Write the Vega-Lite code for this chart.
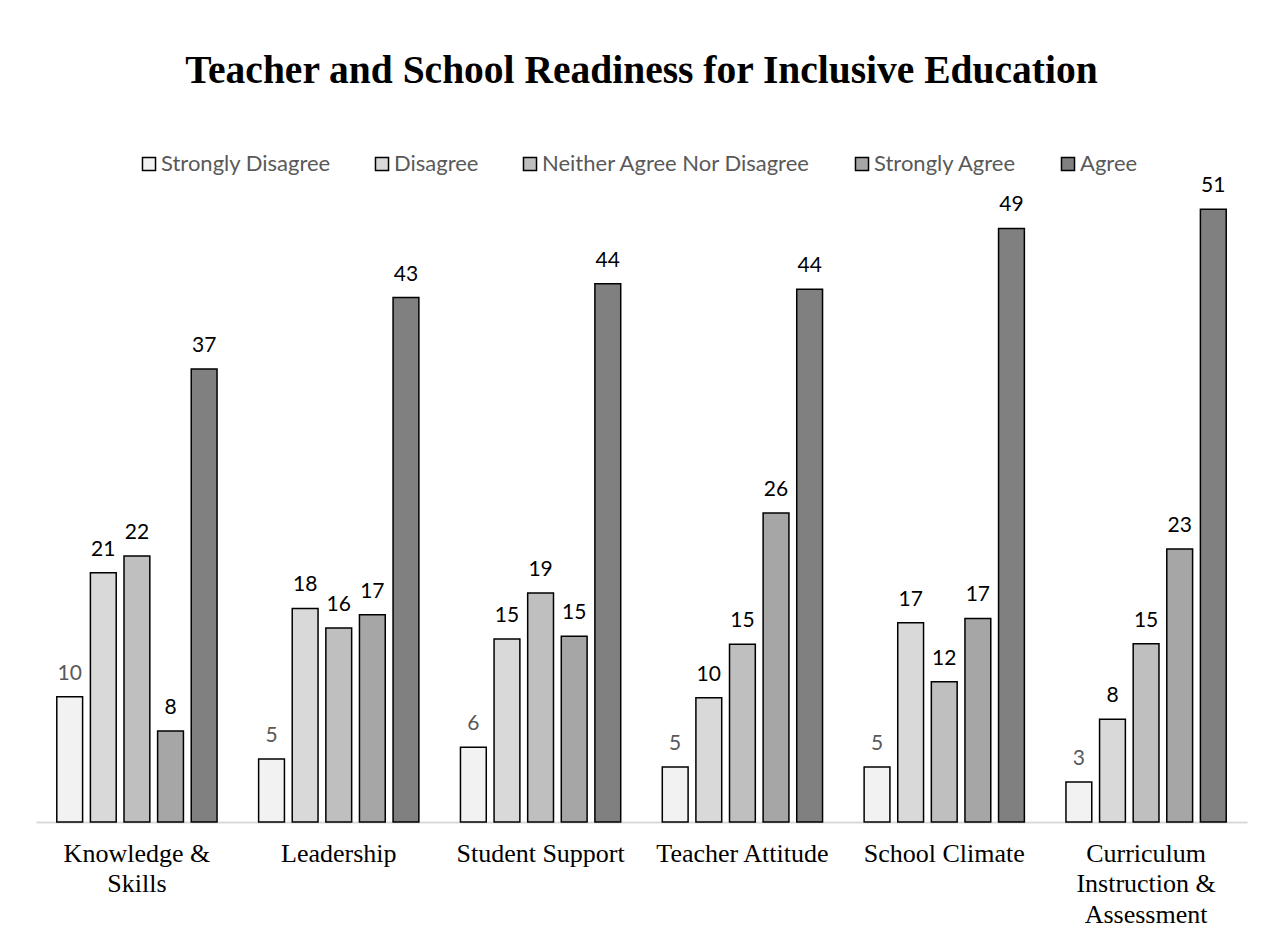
{
  "$schema": "https://vega.github.io/schema/vega-lite/v6.json",
  "width": 1211,
  "height": 629,
  "autosize": {"type": "none"},
  "padding": {"left": 36, "top": 193, "right": 29, "bottom": 121},
  "background": "white",
  "title": {
    "text": "Teacher and School Readiness for Inclusive Education",
    "font": "Liberation Serif",
    "fontSize": 39.5,
    "fontWeight": "bold",
    "color": "black",
    "anchor": "middle",
    "offset": 62
  },
  "data": {
    "values": [
      {"category": "Knowledge & Skills", "response": "Strongly Disagree", "value": 10.36, "label": 10},
      {"category": "Knowledge & Skills", "response": "Disagree", "value": 20.6, "label": 21},
      {"category": "Knowledge & Skills", "response": "Neither Agree Nor Disagree", "value": 22.0, "label": 22},
      {"category": "Knowledge & Skills", "response": "Strongly Agree", "value": 7.52, "label": 8},
      {"category": "Knowledge & Skills", "response": "Agree", "value": 37.44, "label": 37},
      {"category": "Leadership", "response": "Strongly Disagree", "value": 5.21, "label": 5},
      {"category": "Leadership", "response": "Disagree", "value": 17.66, "label": 18},
      {"category": "Leadership", "response": "Neither Agree Nor Disagree", "value": 16.03, "label": 16},
      {"category": "Leadership", "response": "Strongly Agree", "value": 17.13, "label": 17},
      {"category": "Leadership", "response": "Agree", "value": 43.36, "label": 43},
      {"category": "Student Support", "response": "Strongly Disagree", "value": 6.17, "label": 6},
      {"category": "Student Support", "response": "Disagree", "value": 15.12, "label": 15},
      {"category": "Student Support", "response": "Neither Agree Nor Disagree", "value": 18.93, "label": 19},
      {"category": "Student Support", "response": "Strongly Agree", "value": 15.35, "label": 15},
      {"category": "Student Support", "response": "Agree", "value": 44.49, "label": 44},
      {"category": "Teacher Attitude", "response": "Strongly Disagree", "value": 4.55, "label": 5},
      {"category": "Teacher Attitude", "response": "Disagree", "value": 10.27, "label": 10},
      {"category": "Teacher Attitude", "response": "Neither Agree Nor Disagree", "value": 14.69, "label": 15},
      {"category": "Teacher Attitude", "response": "Strongly Agree", "value": 25.54, "label": 26},
      {"category": "Teacher Attitude", "response": "Agree", "value": 44.05, "label": 44},
      {"category": "School Climate", "response": "Strongly Disagree", "value": 4.55, "label": 5},
      {"category": "School Climate", "response": "Disagree", "value": 16.47, "label": 17},
      {"category": "School Climate", "response": "Neither Agree Nor Disagree", "value": 11.6, "label": 12},
      {"category": "School Climate", "response": "Strongly Agree", "value": 16.83, "label": 17},
      {"category": "School Climate", "response": "Agree", "value": 49.07, "label": 49},
      {"category": "Curriculum Instruction & Assessment", "response": "Strongly Disagree", "value": 3.31, "label": 3},
      {"category": "Curriculum Instruction & Assessment", "response": "Disagree", "value": 8.49, "label": 8},
      {"category": "Curriculum Instruction & Assessment", "response": "Neither Agree Nor Disagree", "value": 14.74, "label": 15},
      {"category": "Curriculum Instruction & Assessment", "response": "Strongly Agree", "value": 22.56, "label": 23},
      {"category": "Curriculum Instruction & Assessment", "response": "Agree", "value": 50.66, "label": 51}
    ]
  },
  "encoding": {
    "x": {
      "field": "category",
      "type": "nominal",
      "sort": ["Knowledge & Skills", "Leadership", "Student Support", "Teacher Attitude", "School Climate", "Curriculum Instruction & Assessment"],
      "scale": {"paddingInner": 0.206, "paddingOuter": 0.103},
      "axis": {
        "title": null,
        "domain": true,
        "domainColor": "#d9d9d9",
        "domainWidth": 2,
        "ticks": false,
        "labelAngle": 0,
        "labelFont": "Liberation Serif",
        "labelFontSize": 26,
        "labelColor": "black",
        "labelLineHeight": 30.5,
        "labelPadding": 18,
        "labelLimit": 400,
        "labelOverlap": false,
        "labelExpr": "datum.label == 'Knowledge & Skills' ? ['Knowledge &', 'Skills'] : datum.label == 'Curriculum Instruction & Assessment' ? ['Curriculum', 'Instruction &', 'Assessment'] : datum.label"
      }
    },
    "xOffset": {
      "field": "response",
      "type": "nominal",
      "sort": ["Strongly Disagree", "Disagree", "Neither Agree Nor Disagree", "Strongly Agree", "Agree"],
      "scale": {"paddingInner": 0.232, "paddingOuter": 0}
    },
    "y": {
      "field": "value",
      "type": "quantitative",
      "scale": {"domain": [0, 52], "nice": false, "zero": true},
      "axis": null
    }
  },
  "layer": [
    {
      "mark": {"type": "bar", "stroke": "black", "strokeWidth": 1.5},
      "encoding": {
        "fill": {
          "field": "response",
          "type": "nominal",
          "scale": {
            "domain": ["Strongly Disagree", "Disagree", "Neither Agree Nor Disagree", "Strongly Agree", "Agree"],
            "range": ["#f2f2f2", "#d9d9d9", "#bfbfbf", "#a6a6a6", "#808080"]
          },
          "legend": {
            "title": null,
            "orient": "none",
            "direction": "horizontal",
            "columns": 5,
            "legendX": 102,
            "legendY": -40,
            "padding": 0,
            "symbolType": "square",
            "symbolSize": 170,
            "symbolStrokeColor": "black",
            "symbolStrokeWidth": 1.5,
            "symbolOpacity": 1,
            "labelFont": "Lato",
            "labelFontSize": 22,
            "labelColor": "#595959",
            "labelOffset": 1,
            "columnPadding": 40,
            "labelLimit": 400
          }
        }
      }
    },
    {
      "mark": {"type": "text", "baseline": "alphabetic", "align": "center", "dy": -17, "font": "Lato", "fontSize": 21},
      "encoding": {
        "text": {"field": "label", "type": "quantitative"},
        "color": {
          "condition": {"test": "datum.response === 'Strongly Disagree'", "value": "#595959"},
          "value": "black"
        }
      }
    }
  ],
  "config": {
    "view": {"stroke": null}
  }
}
